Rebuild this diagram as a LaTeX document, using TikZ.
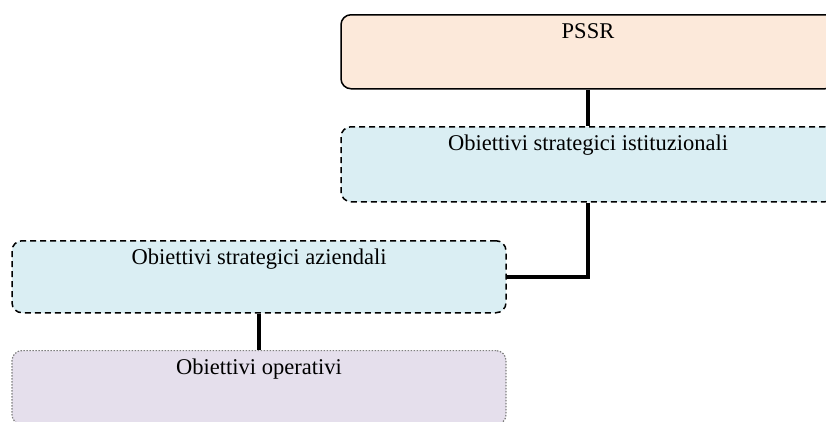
\documentclass[tikz,border=0pt]{standalone}
\usepackage{fontspec}
\setmainfont{Liberation Serif}
\definecolor{peach}{HTML}{FCE9DA}
\definecolor{lblue}{HTML}{DAEEF3}
\definecolor{lav}{HTML}{E5DFEC}
\definecolor{dgray}{HTML}{7F7F7F}
\tikzset{
  boxbase/.style={rectangle, rounded corners=10pt, minimum width=494pt, inner xsep=0pt, inner ysep=0pt,
    text height=24pt, text depth=50pt, anchor=north, font=\fontsize{22.5}{26}\selectfont, line width=1.5pt},
  topbox/.style={boxbase, draw=black, fill=peach},
  dashbox/.style={boxbase, draw=black, fill=lblue, dash pattern=on 6pt off 4pt},
  dotbox/.style={boxbase, draw=dgray, fill=lav, line width=1.2pt, dash pattern=on 1.5pt off 1.5pt},
  conn/.style={draw=black, line width=4.5pt}
}
\begin{document}
\begin{tikzpicture}[x=1pt,y=-1pt]
\useasboundingbox (0,0) rectangle (826,421);
\clip (0,0) rectangle (826,421);
\node[topbox] (pssr) at (588,14) {PSSR};
\node[dashbox, text depth=51pt] (inst) at (588,126) {Obiettivi strategici istituzionali};
\node[dashbox, text depth=48pt] (az) at (259,240) {Obiettivi strategici aziendali};
\node[dotbox] (op) at (259,350) {Obiettivi operativi};
\draw[conn] (pssr.south) -- (inst.north);
\draw[conn] (inst.south) |- (az.east);
\draw[conn] (az.south) -- (op.north);
\end{tikzpicture}
\end{document}
